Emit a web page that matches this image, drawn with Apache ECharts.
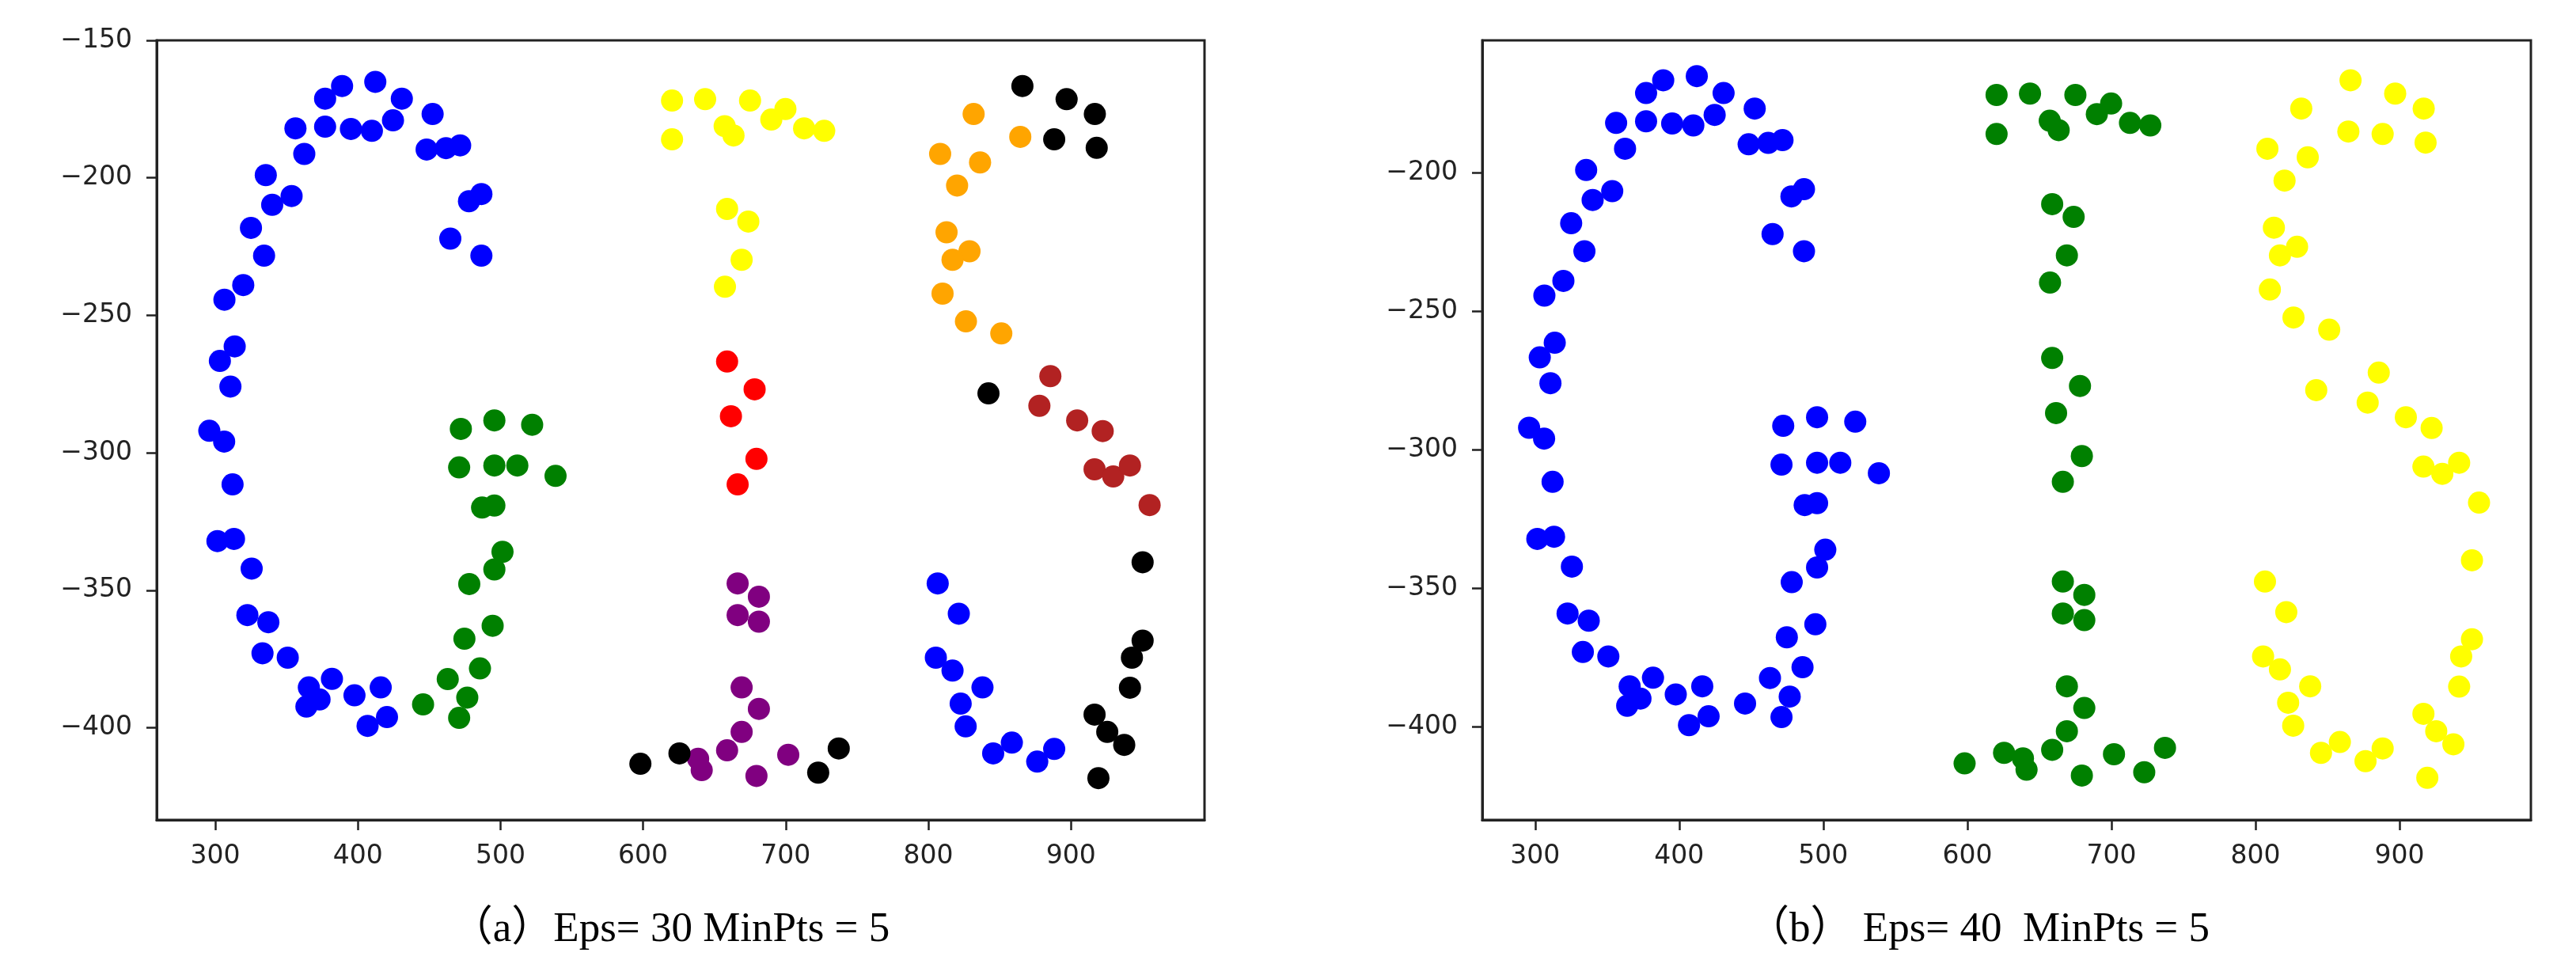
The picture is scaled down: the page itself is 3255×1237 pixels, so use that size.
<!DOCTYPE html>
<html>
<head>
<meta charset="utf-8">
<title>DBSCAN GIS</title>
<script src="https://cdn.jsdelivr.net/npm/echarts@6.0.0/dist/echarts.min.js"></script>
<style>
  html, body { margin: 0; padding: 0; background: #fff; }
  #chart { width: 3255px; height: 1237px; }
</style>
</head>
<body>
<div id="chart"></div>
<script>
// point groups, named after the letter they belong to and their colour in (a)
var gBlue = [
  [388.9, -166.6], [377.0, -171.2], [412.2, -165.1], [430.8, -171.2], [356.2, -182.0],
  [377.0, -181.4], [395.1, -182.2], [409.8, -182.9], [424.6, -179.1], [452.4, -176.8],
  [448.2, -189.7], [461.8, -189.2], [471.7, -188.2], [362.4, -191.3], [335.4, -199.0],
  [353.5, -206.6], [339.9, -209.8], [486.6, -205.9], [477.9, -208.5], [325.0, -218.2],
  [464.8, -222.1], [486.6, -228.3], [334.2, -228.3], [319.6, -239.0], [306.4, -244.3],
  [313.6, -261.3], [303.2, -266.6], [310.6, -275.9], [295.8, -292.0], [306.2, -295.9],
  [312.1, -311.5], [301.5, -332.1], [313.1, -331.3], [325.5, -342.1], [322.5, -359.0],
  [337.2, -361.6], [333.1, -372.9], [350.8, -374.5], [381.8, -382.2], [365.6, -385.3],
  [373.1, -389.7], [363.9, -392.3], [397.6, -388.2], [416.0, -385.3], [420.4, -396.1],
  [406.8, -399.3]
];
var gGreen = [
  [472.2, -291.3], [495.7, -288.2], [522.2, -289.8], [471.0, -305.3], [495.7, -304.6],
  [511.8, -304.6], [538.6, -308.4], [487.1, -319.9], [495.7, -319.2], [501.4, -336.0],
  [495.7, -342.4], [478.1, -347.7], [494.5, -362.9], [474.7, -367.6], [485.6, -378.4],
  [463.0, -382.3], [476.7, -389.0], [445.7, -391.5], [471.0, -396.4]
];
var iYellow = [
  [620.3, -171.9], [620.3, -186.0], [643.5, -171.4], [675.0, -171.9], [699.8, -175.0],
  [689.9, -178.8], [657.2, -181.2], [663.4, -184.6], [712.9, -182.0], [727.0, -182.9],
  [658.9, -211.3], [673.8, -215.9], [669.1, -229.8], [657.4, -239.6]
];
var iRed = [
  [658.9, -266.8], [678.2, -276.9], [661.6, -286.7], [679.5, -302.2], [666.3, -311.5]
];
var iPurple = [
  [666.3, -347.5], [681.2, -352.3], [666.3, -359.0], [681.2, -361.4], [669.1, -385.3],
  [681.2, -393.1], [669.1, -401.5], [658.9, -408.2], [638.6, -411.3], [641.1, -415.4],
  [679.5, -417.5], [701.8, -409.8]
];
var iBlack = [
  [598.1, -413.1], [625.5, -409.3], [722.8, -416.3], [737.2, -407.5]
];
var sOrange = [
  [831.8, -176.8], [864.5, -185.1], [808.3, -191.3], [836.3, -194.4], [820.2, -202.8],
  [812.8, -219.8], [828.9, -226.7], [817.0, -229.8], [810.0, -242.1], [826.4, -252.2],
  [851.2, -256.6]
];
var sBlackTop = [
  [866.0, -166.6], [897.0, -171.4], [916.8, -176.8], [888.3, -186.0], [918.1, -189.1],
  [842.2, -278.4]
];
var sBrown = [
  [885.6, -272.1], [877.9, -282.9], [904.4, -288.2], [922.3, -292.1], [916.6, -306.0],
  [929.7, -308.6], [941.4, -304.6], [955.2, -319.0]
];
var sBlackRight = [
  [950.3, -339.8], [950.3, -368.3], [942.8, -374.5], [941.4, -385.4], [916.6, -395.2],
  [925.5, -401.5], [937.4, -406.2], [919.3, -418.3]
];
var sBlue = [
  [806.6, -347.5], [821.4, -358.5], [805.3, -374.5], [817.0, -379.2], [838.0, -385.3],
  [822.7, -391.2], [826.2, -399.5], [845.5, -409.3], [858.6, -405.4], [876.4, -412.3],
  [888.3, -407.7]
];

var xTicks = [300, 400, 500, 600, 700, 800, 900];
var yTicksA = [-400, -350, -300, -250, -200, -150];
var yTicksB = [-400, -350, -300, -250, -200];
var captionA = '（a）Eps= 30 MinPts = 5';
var captionB = '（b） Eps= 40  MinPts = 5';

var chart = echarts.init(document.getElementById('chart'));

function minus(v) {
  return String(v).replace('-', '\u2212');
}

function xAxisOf(idx, min, max) {
  return {
    type: 'value', gridIndex: idx, min: min, max: max,
    splitLine: { show: false },
    axisLine: { show: true, onZero: false, lineStyle: { color: '#222', width: 3 } },
    axisTick: { show: true, length: 13, customValues: xTicks, lineStyle: { color: '#222', width: 2.5 } },
    axisLabel: {
      customValues: xTicks, margin: 30, fontSize: 33, color: '#222',
      fontFamily: 'DejaVu Sans'
    }
  };
}

function yAxisOf(idx, min, max, ticks) {
  return {
    type: 'value', gridIndex: idx, min: min, max: max,
    splitLine: { show: false },
    axisLine: { show: true, onZero: false, lineStyle: { color: '#222', width: 3 } },
    axisTick: { show: true, length: 13, customValues: ticks, lineStyle: { color: '#222', width: 2.5 } },
    axisLabel: {
      customValues: ticks, margin: 31, fontSize: 33, color: '#222',
      fontFamily: 'DejaVu Sans', formatter: minus
    }
  };
}

function dots(idx, color, data) {
  return {
    type: 'scatter', xAxisIndex: idx, yAxisIndex: idx,
    symbolSize: 28, data: data,
    itemStyle: { color: color, opacity: 1 },
    emphasis: { disabled: true }
  };
}

var option = {
  backgroundColor: '#fff',
  animation: false,
  grid: [
    { left: 198, top: 51, width: 1324, height: 985, show: true, borderColor: '#222', borderWidth: 3 },
    { left: 1873, top: 51, width: 1325, height: 985, show: true, borderColor: '#222', borderWidth: 3 }
  ],
  xAxis: [xAxisOf(0, 258.9, 993.7), xAxisOf(1, 263.3, 991.2)],
  yAxis: [yAxisOf(0, -433.5, -150, yTicksA), yAxisOf(1, -433.5, -152.2, yTicksB)],
  series: [
    dots(0, '#0000ff', gBlue.concat(sBlue)),
    dots(0, '#008000', gGreen),
    dots(0, '#ffff00', iYellow),
    dots(0, '#ff0000', iRed),
    dots(0, '#800080', iPurple),
    dots(0, '#ffa500', sOrange),
    dots(0, '#b22222', sBrown),
    dots(0, '#000000', iBlack.concat(sBlackTop, sBlackRight)),
    dots(1, '#0000ff', gBlue.concat(gGreen)),
    dots(1, '#008000', iYellow.concat(iRed, iPurple, iBlack)),
    dots(1, '#ffff00', sOrange.concat(sBlackTop, sBrown, sBlackRight, sBlue))
  ],
  graphic: [
    {
      type: 'text', x: 847, y: 1175,
      style: {
        text: captionA, fill: '#000', align: 'center', verticalAlign: 'middle',
        fontSize: 53, fontFamily: '"Liberation Serif", "Noto Sans CJK SC", serif'
      }
    },
    {
      type: 'text', x: 2500, y: 1175,
      style: {
        text: captionB, fill: '#000', align: 'center', verticalAlign: 'middle',
        fontSize: 53, fontFamily: '"Liberation Serif", "Noto Sans CJK SC", serif'
      }
    }
  ]
};

chart.setOption(option);
</script>
</body>
</html>
